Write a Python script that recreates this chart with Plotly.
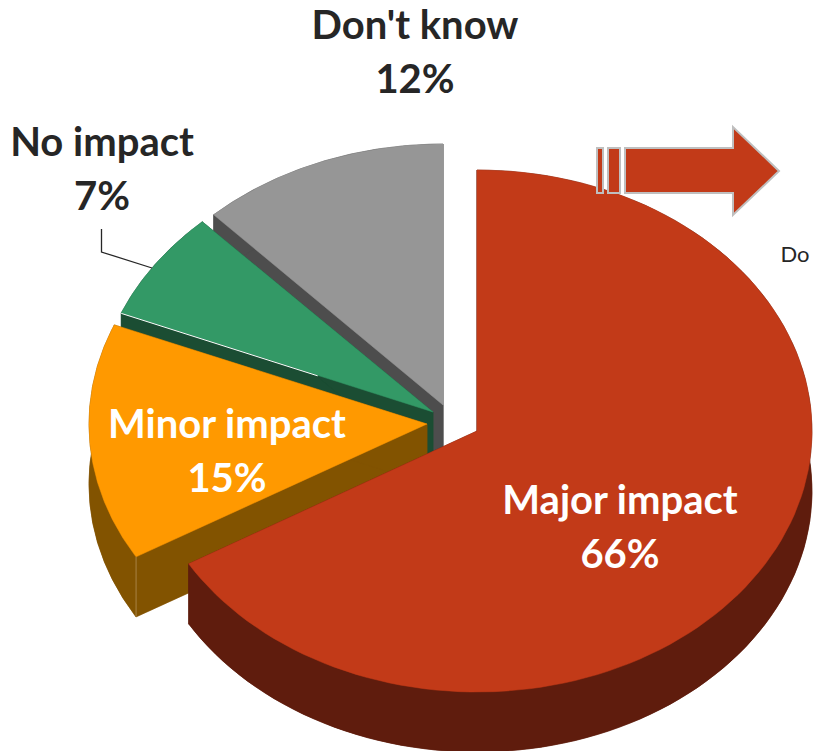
import numpy as np
import plotly.graph_objects as go

# ---- data
categories = ["Major impact", "Minor impact", "No impact", "Don't know"]
shares = [66.5, 14.7, 6.8, 12.0]
pct_labels = ["66%", "15%", "7%", "12%"]
side_note = "Do"

# ---- styling / layout (drawing order is back to front)
W, H = 814, 751
TOP = {"Major impact": "#C23A18", "Minor impact": "#FF9900", "No impact": "#339966", "Don't know": "#969696"}
WALL = {"Major impact": "#5F1C0D", "Minor impact": "#825300", "No impact": "#1B4D33", "Don't know": "#4D4D4D"}
APEX = {"Major impact": (477, 431), "Minor impact": (427, 424), "No impact": (433, 412), "Don't know": (443, 405)}
RADX = {"Major impact": 335, "Minor impact": 338, "No impact": 337, "Don't know": 335}
TXT = {"Major impact": (620, 504, 558, "white"), "Minor impact": (227, 428, 482, "white"),
       "No impact": (102, 146, 200, "#262626"), "Don't know": (415, 29, 83, "#262626")}
RY, DEPTH = 261, 60
FONT = "Lato, Carlito, 'Open Sans', sans-serif"

edges = np.cumsum([0] + shares) / sum(shares) * 2 * np.pi
fig = go.Figure()


def poly(xs, ys, color):
    fig.add_trace(go.Scatter(x=list(xs), y=list(ys), mode="lines", fill="toself", fillcolor=color,
                             line=dict(color=color, width=0.5), hoverinfo="skip", showlegend=False))


def stroke(xs, ys, color):
    fig.add_trace(go.Scatter(x=list(xs), y=list(ys), mode="lines", line=dict(color=color, width=1),
                             hoverinfo="skip", showlegend=False))


for idx in [3, 2, 1, 0]:
    name = categories[idx]
    cx, cy = APEX[name]
    th = np.linspace(edges[idx], edges[idx + 1], 120)
    ax, ay = cx + RADX[name] * np.sin(th), cy - RY * np.cos(th)
    wall = WALL[name]
    # bottom face
    poly(np.r_[cx, ax, cx], np.r_[cy + DEPTH, ay + DEPTH, cy + DEPTH], wall)
    # radial walls
    for k in (0, -1):
        poly([cx, ax[k], ax[k], cx, cx], [cy, ay[k], ay[k] + DEPTH, cy + DEPTH, cy], wall)
    # rim
    poly(np.r_[ax, ax[::-1], ax[0]], np.r_[ay, ay[::-1] + DEPTH, ay[0]], wall)
    # top face
    poly(np.r_[cx, ax, cx], np.r_[cy, ay, cy], TOP[name])
    if name == "No impact":      # thin highlight along the front edge of the slice
        stroke([ax[0], ax[0] + 0.63 * (cx - ax[0])], [ay[0] + 0.5, ay[0] + 0.5 + 0.63 * (cy - ay[0])], "white")
    if name == "Minor impact":   # lighter crease where wall meets rim
        stroke([ax[0], ax[0]], [ay[0], ay[0] + DEPTH], "#A88444")

for name, pct in zip(categories, pct_labels):
    x, y1, y2, col = TXT[name]
    fig.add_trace(go.Scatter(x=[x, x], y=[y1, y2], mode="text", text=[name, pct], textposition="middle center",
                             textfont=dict(family=FONT, size=40, color=col, weight="bold"),
                             hoverinfo="skip", showlegend=False))

fig.add_trace(go.Scatter(x=[795], y=[256], mode="text", text=[side_note], textposition="middle center",
                         textfont=dict(family=FONT, size=22, color="#262626"), hoverinfo="skip", showlegend=False))

# leader line and arrow decoration
ARROW_STYLE = dict(type="path", fillcolor="#C23A18", line=dict(color="#BFBFBF", width=2), layer="above",
                   xref="x", yref="y")
shapes = [
    dict(type="path", path="M101.5,229 L101.5,252 L152,268", line=dict(color="#262626", width=1.3),
         xref="x", yref="y", layer="above"),
    dict(path="M597,148 H603 V193 H597 Z", **ARROW_STYLE),
    dict(path="M608,148 H620 V193 H608 Z", **ARROW_STYLE),
    dict(path="M625,148 H733 V127 L779,171 L733,215 V193 H625 Z", **ARROW_STYLE),
]

fig.update_layout(width=W, height=H, margin=dict(l=0, r=0, t=0, b=0), paper_bgcolor="white", plot_bgcolor="white",
                  xaxis=dict(range=[0, W], visible=False, fixedrange=True),
                  yaxis=dict(range=[H, 0], visible=False, fixedrange=True),
                  shapes=shapes, showlegend=False)
fig.write_html("out.html", config={"displayModeBar": False},
               post_script="document.body.style.margin='0';document.body.style.overflow='hidden';")
